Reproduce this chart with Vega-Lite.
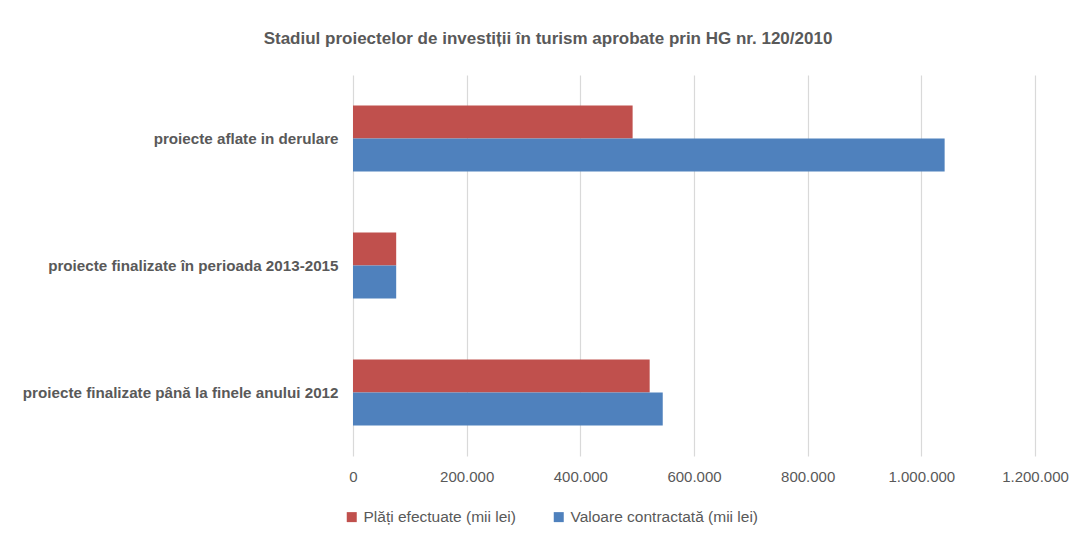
{
  "$schema": "https://vega.github.io/schema/vega-lite/v6.json",
  "width": 682,
  "height": 381,
  "autosize": {"type": "none"},
  "padding": {"left": 353, "top": 75, "right": 45, "bottom": 82},
  "background": "white",
  "title": {
    "text": "Stadiul proiectelor de investiții în turism aprobate prin HG nr. 120/2010",
    "font": "Liberation Sans",
    "fontSize": 17,
    "fontWeight": "bold",
    "color": "#595959",
    "anchor": "middle",
    "dx": -146,
    "offset": 27
  },
  "data": {
    "values": [
      {"categorie": "proiecte aflate in derulare", "serie": "Plăți efectuate  (mii lei)", "valoare": 492000},
      {"categorie": "proiecte aflate in derulare", "serie": "Valoare contractată  (mii lei)", "valoare": 1041000},
      {"categorie": "proiecte finalizate în perioada 2013-2015", "serie": "Plăți efectuate  (mii lei)", "valoare": 76000},
      {"categorie": "proiecte finalizate în perioada 2013-2015", "serie": "Valoare contractată  (mii lei)", "valoare": 76000},
      {"categorie": "proiecte finalizate până la finele anului 2012", "serie": "Plăți efectuate  (mii lei)", "valoare": 522000},
      {"categorie": "proiecte finalizate până la finele anului 2012", "serie": "Valoare contractată  (mii lei)", "valoare": 545000}
    ]
  },
  "mark": {"type": "bar"},
  "encoding": {
    "y": {
      "field": "categorie",
      "type": "nominal",
      "sort": ["proiecte aflate in derulare", "proiecte finalizate în perioada 2013-2015", "proiecte finalizate până la finele anului 2012"],
      "scale": {"paddingInner": 0.48, "paddingOuter": 0.24},
      "axis": {
        "title": null,
        "ticks": false,
        "domain": false,
        "labelPadding": 15,
        "labelFont": "Liberation Sans",
        "labelFontSize": 15.2,
        "labelFontWeight": "bold",
        "labelColor": "#595959",
        "labelLimit": 400
      }
    },
    "yOffset": {
      "field": "serie",
      "type": "nominal",
      "sort": ["Plăți efectuate  (mii lei)", "Valoare contractată  (mii lei)"],
      "scale": {"paddingInner": 0, "paddingOuter": 0}
    },
    "x": {
      "field": "valoare",
      "type": "quantitative",
      "scale": {"domain": [0, 1200000], "nice": false},
      "axis": {
        "title": null,
        "values": [0, 200000, 400000, 600000, 800000, 1000000, 1200000],
        "labelExpr": "replace(format(datum.value, ','), /,/g, '.')",
        "ticks": false,
        "domain": false,
        "grid": true,
        "gridColor": "#D9D9D9",
        "gridWidth": 1.2,
        "labelPadding": 13,
        "labelFont": "Liberation Sans",
        "labelFontSize": 15,
        "labelColor": "#595959",
        "labelFlush": false
      }
    },
    "color": {
      "field": "serie",
      "type": "nominal",
      "scale": {
        "domain": ["Plăți efectuate  (mii lei)", "Valoare contractată  (mii lei)"],
        "range": ["#C0504D", "#4F81BD"]
      },
      "legend": {
        "title": null,
        "orient": "none",
        "direction": "horizontal",
        "legendX": -9,
        "legendY": 434,
        "symbolType": "square",
        "symbolSize": 100,
        "symbolStrokeWidth": 0,
        "labelFont": "Liberation Sans",
        "labelFontSize": 15.5,
        "labelColor": "#595959",
        "labelOffset": 4,
        "labelLimit": 400,
        "columnPadding": 30,
        "padding": 0
      }
    }
  },
  "config": {
    "view": {"stroke": null}
  }
}
